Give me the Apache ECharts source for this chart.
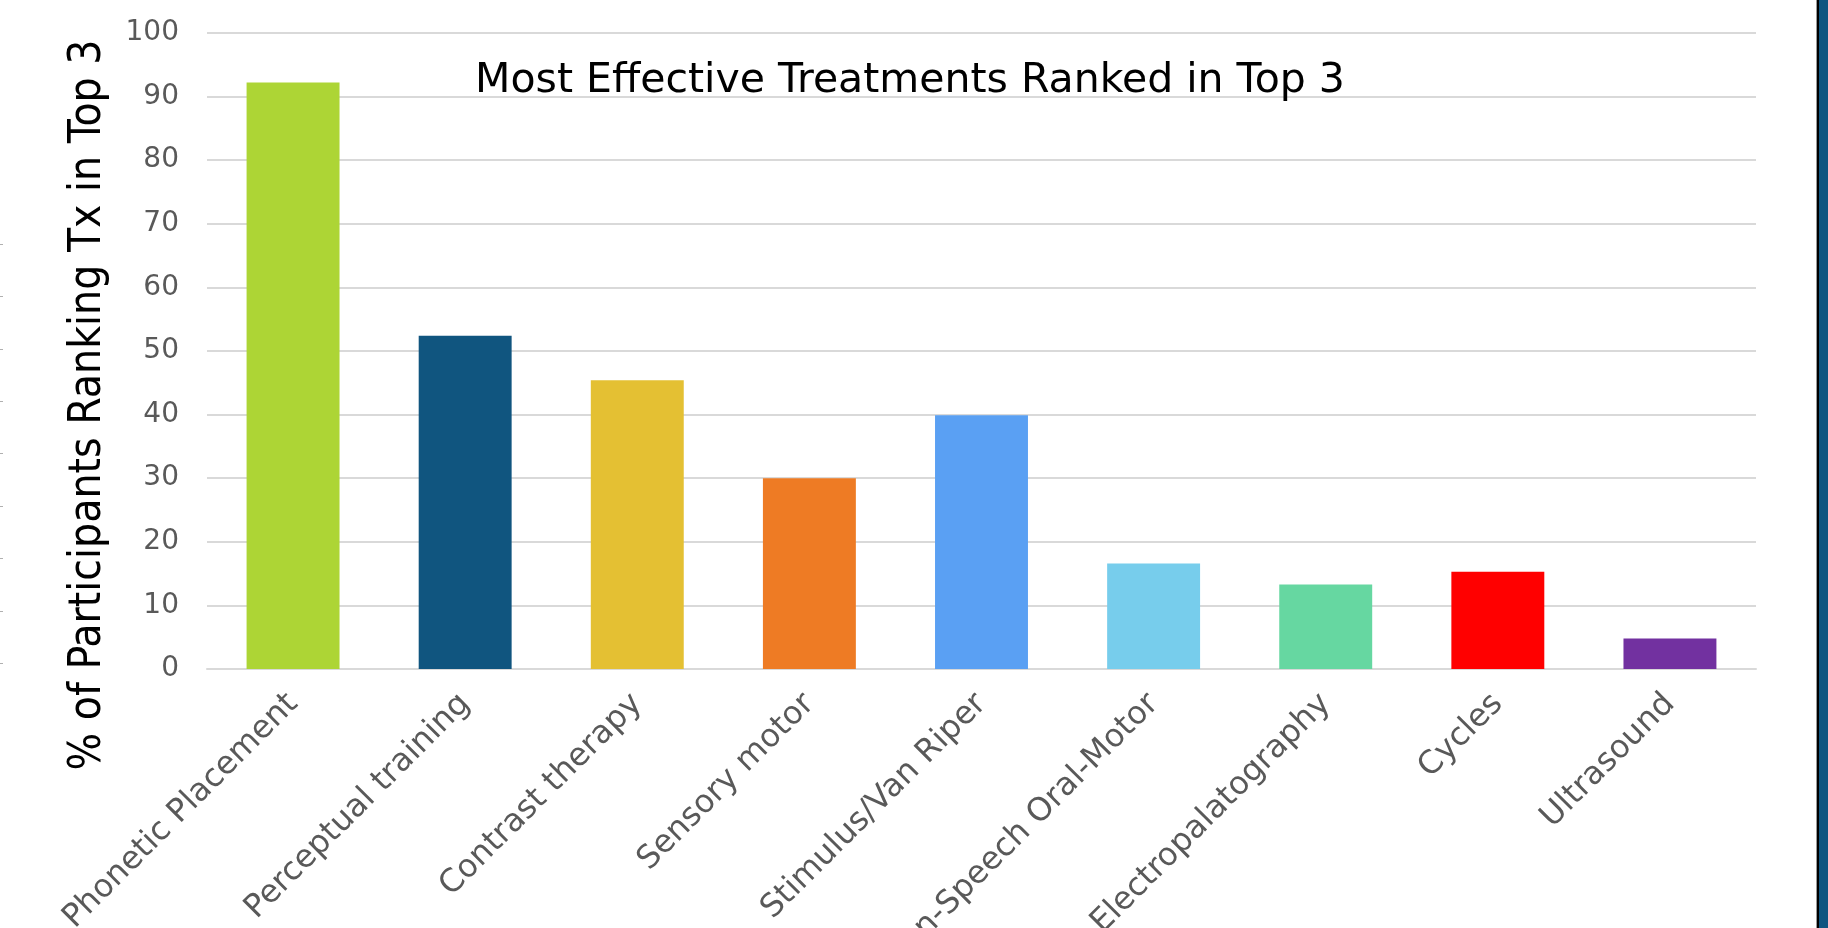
<!DOCTYPE html>
<html>
<head>
<meta charset="utf-8">
<script src="https://cdn.jsdelivr.net/npm/echarts@6/dist/echarts.min.js"></script>
<style>
html,body{margin:0;padding:0;background:#fff;}
#chart{width:1828px;height:928px;}
</style>
</head>
<body>
<div id="chart"></div>
<script>
const categories = ["Phonetic Placement","Perceptual training","Contrast therapy","Sensory motor","Stimulus/Van Riper","Non-Speech Oral-Motor","Electropalatography","Cycles","Ultrasound"];
const values = [92.2, 52.4, 45.4, 30.0, 39.9, 16.6, 13.3, 15.3, 4.8];
const barColors = ["#add535","#10557f","#e4c033","#ee7b24","#5aa0f3","#77cdec","#66d7a1","#ff0000","#7231a0"];
const yTicks = {min:0, max:100, interval:10};
const titleText = "Most Effective Treatments Ranked in Top 3";
const yName = "% of Participants Ranking Tx in Top 3";

const chart = echarts.init(document.getElementById('chart'));
const edgeDashes = [];
[244,296,349,401,453,506,558,611,663].forEach(y=>{
  edgeDashes.push({type:'rect', shape:{x:0,y:y,width:3,height:1}, style:{fill:'#b0b0b0'}, silent:true});
});
chart.setOption({
  backgroundColor:'#ffffff',
  animation:false,
  title:{
    text:titleText,
    left:905, top:56, textAlign:'center',
    textStyle:{fontFamily:'DejaVu Sans', fontWeight:'normal', fontSize:41, color:'#000'}
  },
  grid:{left:207, right:72, top:33, bottom:259, containLabel:false, outerBoundsMode:'none'},
  xAxis:{
    type:'category',
    data:categories,
    axisLine:{lineStyle:{color:'#d9d9d9', width:2}},
    axisTick:{show:false},
    axisLabel:{rotate:45, margin:30, interval:0, color:'#595959', fontFamily:'DejaVu Sans', fontSize:32}
  },
  yAxis:{
    type:'value',
    min:yTicks.min, max:yTicks.max, interval:yTicks.interval,
    name:yName,
    nameLocation:'middle',
    nameGap:96,
    nameTextStyle:{fontFamily:'DejaVu Sans Condensed', fontSize:44, color:'#000', padding:[0,108,0,0]},
    axisLine:{show:false},
    axisTick:{show:false},
    axisLabel:{margin:28, color:'#595959', fontFamily:'DejaVu Sans', fontSize:28},
    splitLine:{lineStyle:{color:'#d9d9d9', width:2}}
  },
  series:[{
    type:'bar',
    data:values.map((v,i)=>({value:v, itemStyle:{color:barColors[i]}})),
    barWidth:'54%'
  }],
  graphic:[
    {type:'rect', shape:{x:1816,y:0,width:1,height:928}, style:{fill:'#9a9a9a'}, silent:true},
    {type:'rect', shape:{x:1817,y:0,width:2,height:928}, style:{fill:'#000000'}, silent:true},
    {type:'rect', shape:{x:1819,y:0,width:9,height:928}, style:{fill:'#0f5580'}, silent:true}
  ].concat(edgeDashes)
});
</script>
</body>
</html>
